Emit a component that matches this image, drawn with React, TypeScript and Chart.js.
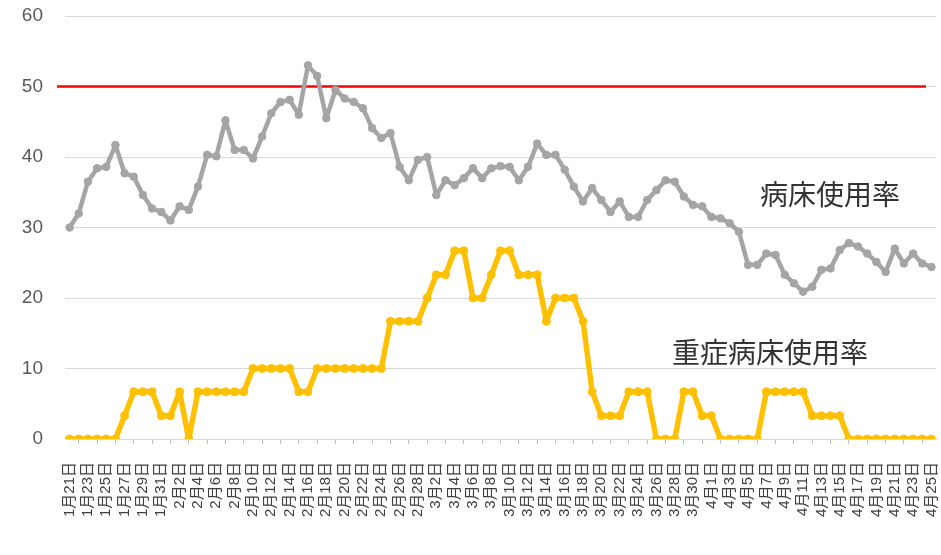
import React, { useEffect, useRef } from "react";
import { Chart, registerables } from "chart.js";

Chart.register(...registerables);

// 1月21日 .. 4月25日, one entry per day
const months: [number, number, number][] = [
  [1, 21, 31],
  [2, 1, 28],
  [3, 1, 31],
  [4, 1, 25],
];
const dateLabels: string[] = [];
for (const [m, from, to] of months) {
  for (let d = from; d <= to; d++) dateLabels.push(`${m}月${d}日`);
}

// 病床使用率 (%)
const bedUsage = [
  30, 32, 36.5, 38.4, 38.6, 41.7, 37.7, 37.2, 34.6, 32.7,
  32.2, 31, 33, 32.5, 35.8, 40.3, 40.1, 45.2, 41, 41,
  39.8, 42.9, 46.2, 47.8, 48.1, 46, 53, 51.5, 45.5, 49.5,
  48.3, 47.8, 46.9, 44.1, 42.7, 43.4, 38.6, 36.7, 39.6, 40,
  34.6, 36.7, 36, 37, 38.4, 37, 38.4, 38.7, 38.6, 36.7,
  38.6, 41.9, 40.3, 40.3, 38.2, 35.8, 33.7, 35.6, 33.9, 32.2,
  33.7, 31.5, 31.5, 33.9, 35.3, 36.7, 36.5, 34.4, 33.2, 33,
  31.5, 31.3, 30.6, 29.4, 24.7, 24.7, 26.3, 26.1, 23.3, 22.1,
  20.9, 21.6, 24, 24.2, 26.8, 27.8, 27.3, 26.3, 25.1, 23.7,
  27, 24.9, 26.3, 24.9, 24.4,
];

// 重症病床使用率 (%)
const severeBedUsage = [
  0, 0, 0, 0, 0, 0, 3.3, 6.7, 6.7, 6.7,
  3.3, 3.3, 6.7, 0, 6.7, 6.7, 6.7, 6.7, 6.7, 6.7,
  10, 10, 10, 10, 10, 6.7, 6.7, 10, 10, 10,
  10, 10, 10, 10, 10, 16.7, 16.7, 16.7, 16.7, 20,
  23.3, 23.3, 26.7, 26.7, 20, 20, 23.3, 26.7, 26.7, 23.3,
  23.3, 23.3, 16.7, 20, 20, 20, 16.7, 6.7, 3.3, 3.3,
  3.3, 6.7, 6.7, 6.7, 0, 0, 0, 6.7, 6.7, 3.3,
  3.3, 0, 0, 0, 0, 0, 6.7, 6.7, 6.7, 6.7,
  6.7, 3.3, 3.3, 3.3, 3.3, 0, 0, 0, 0, 0,
  0, 0, 0, 0, 0,
];

// 50% reference level
const alertLevel = [50];

const yTicks = [0, 10, 20, 30, 40, 50, 60];

// series captions: [text, category index, value]
const captions: [string, number, number][] = [
  ["病床使用率", 75.3, 34.7],
  ["重症病床使用率", 65.7, 12.3],
];

const GRAY = "#a5a5a5";
const GOLD = "#ffc000";

const overlayPlugin = {
  id: "overlay",
  beforeDatasetsDraw(chart: any) {
    const { ctx, chartArea, scales } = chart;
    const y = scales.y.getPixelForValue(alertLevel[0]);
    ctx.save();
    ctx.strokeStyle = "#ff0000";
    ctx.lineWidth = 2.5;
    ctx.beginPath();
    ctx.moveTo(chartArea.left - 8, y);
    ctx.lineTo(chartArea.right - 10, y);
    ctx.stroke();
    ctx.restore();
  },
  afterDatasetsDraw(chart: any) {
    const { ctx, scales } = chart;
    ctx.save();
    ctx.fillStyle = "#333333";
    ctx.font = '28px "Noto Sans CJK JP"';
    ctx.textAlign = "left";
    ctx.textBaseline = "middle";
    for (const [text, idx, val] of captions) {
      const x = scales.x.getPixelForValue(idx);
      const yy = scales.y.getPixelForValue(val);
      ctx.fillText(text, x, yy);
    }
    ctx.restore();
  },
};

export default function App() {
  const canvasRef = useRef<HTMLCanvasElement | null>(null);

  useEffect(() => {
    const canvas = canvasRef.current;
    if (!canvas) return;
    const chart = new Chart(canvas, {
      type: "line",
      data: {
        labels: dateLabels,
        datasets: [
          {
            label: "重症病床使用率",
            data: severeBedUsage,
            borderColor: GOLD,
            backgroundColor: GOLD,
            borderWidth: 5.5,
            borderJoinStyle: "round",
            borderCapStyle: "round",
            pointRadius: 4,
            pointBorderWidth: 1,
            pointBorderColor: GOLD,
            pointBackgroundColor: GOLD,
            tension: 0,
          },
          {
            label: "病床使用率",
            data: bedUsage,
            borderColor: GRAY,
            backgroundColor: GRAY,
            borderWidth: 4.5,
            borderJoinStyle: "round",
            borderCapStyle: "round",
            pointRadius: 3.8,
            pointBorderWidth: 1,
            pointBorderColor: GRAY,
            pointBackgroundColor: GRAY,
            tension: 0,
          },
        ],
      },
      options: {
        animation: false,
        responsive: false,
        maintainAspectRatio: false,
        devicePixelRatio: 1,
        layout: { padding: { top: 16, right: 4, bottom: 0, left: 0 } },
        plugins: {
          legend: { display: false },
          tooltip: { enabled: false },
        },
        scales: {
          x: {
            type: "category",
            offset: true,
            grid: {
              offset: true,
              drawOnChartArea: false,
              drawTicks: true,
              tickLength: 5,
              color: "#bfbfbf",
            },
            border: { display: true, color: "#d9d9d9", width: 1 },
            ticks: {
              autoSkip: false,
              minRotation: 90,
              maxRotation: 90,
              padding: 18,
              color: "#404040",
              font: { family: '"Liberation Sans", "Noto Sans CJK JP"', size: 15 },
            },
            afterBuildTicks(scale: any) {
              scale.ticks = scale.ticks.filter((_: any, i: number) => i % 2 === 0);
            },
            afterFit(scale: any) {
              scale.height = 116;
              scale.paddingLeft = 0;
              scale.paddingRight = 0;
            },
          },
          y: {
            min: 0,
            max: 60,
            afterBuildTicks(scale: any) {
              scale.ticks = yTicks.map((v) => ({ value: v }));
            },
            grid: {
              color: "#d9d9d9",
              lineWidth: 1,
              drawTicks: false,
            },
            border: { display: false },
            ticks: {
              padding: 22,
              color: "#595959",
              font: { family: '"Liberation Sans"', size: 19 },
            },
            afterFit(scale: any) {
              scale.width = 65;
              scale.paddingTop = 0;
              scale.paddingBottom = 0;
            },
          },
        },
      },
      plugins: [overlayPlugin],
    });
    return () => chart.destroy();
  }, []);

  return (
    <div
      style={{
        position: "fixed",
        left: 0,
        top: 0,
        width: 941,
        height: 555,
        background: "#ffffff",
      }}
    >
      <canvas ref={canvasRef} width={941} height={555} />
    </div>
  );
}
